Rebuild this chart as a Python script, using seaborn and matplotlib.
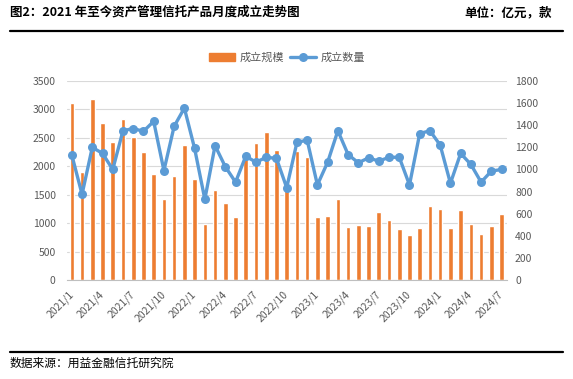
import numpy as np
import pandas as pd
import matplotlib
matplotlib.use("Agg")
import matplotlib.pyplot as plt
import seaborn as sns
from matplotlib.lines import Line2D
from matplotlib.patches import Patch

# 月份 2021/1 - 2024/7
months = [f"{y}/{m}" for y in (2021, 2022, 2023, 2024) for m in range(1, 13)][:43]

# 成立规模（亿元）
scale = [3120, 1900, 3190, 2770, 2430, 2830, 2520, 2260, 1860, 1430, 1830,
         2380, 1780, 990, 1580, 1350, 1110, 2130, 2410, 2600, 2290, 1620,
         2270, 2160, 1110, 1130, 1430, 930, 970, 950, 1200, 1060,
         900, 790, 920, 1300, 1250, 920, 1230, 990, 810, 950, 1160]

# 成立数量（款）
count = [1130, 775, 1200, 1145, 1000, 1350, 1370, 1345, 1435, 990, 1390,
         1555, 1190, 730, 1215, 1025, 885, 1120, 1065, 1110, 1100, 835,
         1245, 1265, 860, 1065, 1350, 1135, 1060, 1105, 1075, 1110,
         1110, 860, 1325, 1350, 1220, 875, 1145, 1045, 885, 985, 1000]

bar_color = "#ED7D31"
line_color = "#5B9BD5"
txt_color = "#595959"

df = pd.DataFrame({"month": months, "scale": scale, "count": count})
df["pos"] = np.arange(len(df))

sns.set_theme(style="white")
plt.rcParams["font.family"] = ["Noto Sans CJK SC", "DejaVu Sans"]

fig = plt.figure(figsize=(5.73, 3.79), dpi=100)
ax = fig.add_axes([66.7 / 573, 1 - 280 / 379, 440 / 573, 199 / 379])

sns.barplot(data=df, x="month", y="scale", color=bar_color, width=0.45,
            saturation=1, ax=ax)
ax.set_ylim(0, 3500)
ax.set_yticks(np.arange(0, 3501, 500))
ax.yaxis.grid(True, color="#D9D9D9", lw=0.8)
ax.set_axisbelow(True)

ax2 = ax.twinx()
sns.lineplot(data=df, x="pos", y="count", ax=ax2, color=line_color, lw=2.4,
             marker="o", markersize=6.5, markeredgewidth=0)
ax2.set_ylim(0, 1800)
ax2.set_yticks(np.arange(0, 1801, 200))
ax.set_xlim(-0.5, len(df) - 0.5)

# 坐标轴
for a in (ax, ax2):
    for s in a.spines.values():
        s.set_visible(False)
    a.set_xlabel("")
    a.set_ylabel("")
ax.spines["bottom"].set_visible(True)
ax.spines["bottom"].set_color("#BFBFBF")
ax.spines["bottom"].set_linewidth(0.8)

ax.set_xticks(np.arange(0, len(df), 3))
ax.set_xticklabels(months[::3], rotation=45, ha="right", va="center",
                   rotation_mode="anchor", fontsize=7.5, color=txt_color)
ax.set_xticks(np.arange(-0.5, len(df), 3), minor=True)
ax.tick_params(axis="x", which="major", length=0, pad=9)
ax.tick_params(axis="x", which="minor", length=4, color="#BFBFBF", width=0.8)
ax.tick_params(axis="y", length=0, pad=8, labelsize=7.5, labelcolor=txt_color)
ax2.tick_params(axis="y", length=0, pad=6, labelsize=7.5, labelcolor=txt_color)

# 图例
handles = [Patch(color=bar_color),
           Line2D([], [], color=line_color, lw=2.4, marker="o", markersize=6.5,
                  markeredgewidth=0)]
fig.legend(handles, ["成立规模", "成立数量"], loc="center",
           bbox_to_anchor=(287 / 573, 1 - 57.5 / 379), ncol=2, frameon=False,
           fontsize=8, handlelength=2.4, columnspacing=0.5, handletextpad=0.4,
           labelcolor=txt_color)

# 标题和来源
fig.text(10 / 573, 1 - 12.5 / 379, "图2：2021 年至今资产管理信托产品月度成立走势图",
         fontsize=9, fontweight="bold", va="center", ha="left", color="black")
fig.text(552 / 573, 1 - 12.5 / 379, "单位：亿元，款",
         fontsize=9, fontweight="bold", va="center", ha="right", color="black")
fig.add_artist(Line2D([10 / 573, 563 / 573], [1 - 30.7 / 379] * 2,
                      transform=fig.transFigure, color="black", lw=1.6))
fig.add_artist(Line2D([10 / 573, 563 / 573], [1 - 351.7 / 379] * 2,
                      transform=fig.transFigure, color="black", lw=1.6))
fig.text(10 / 573, 1 - 363 / 379, "数据来源：用益金融信托研究院",
         fontsize=8.5, va="center", ha="left", color="black")

fig.savefig("out.png", dpi=100)
